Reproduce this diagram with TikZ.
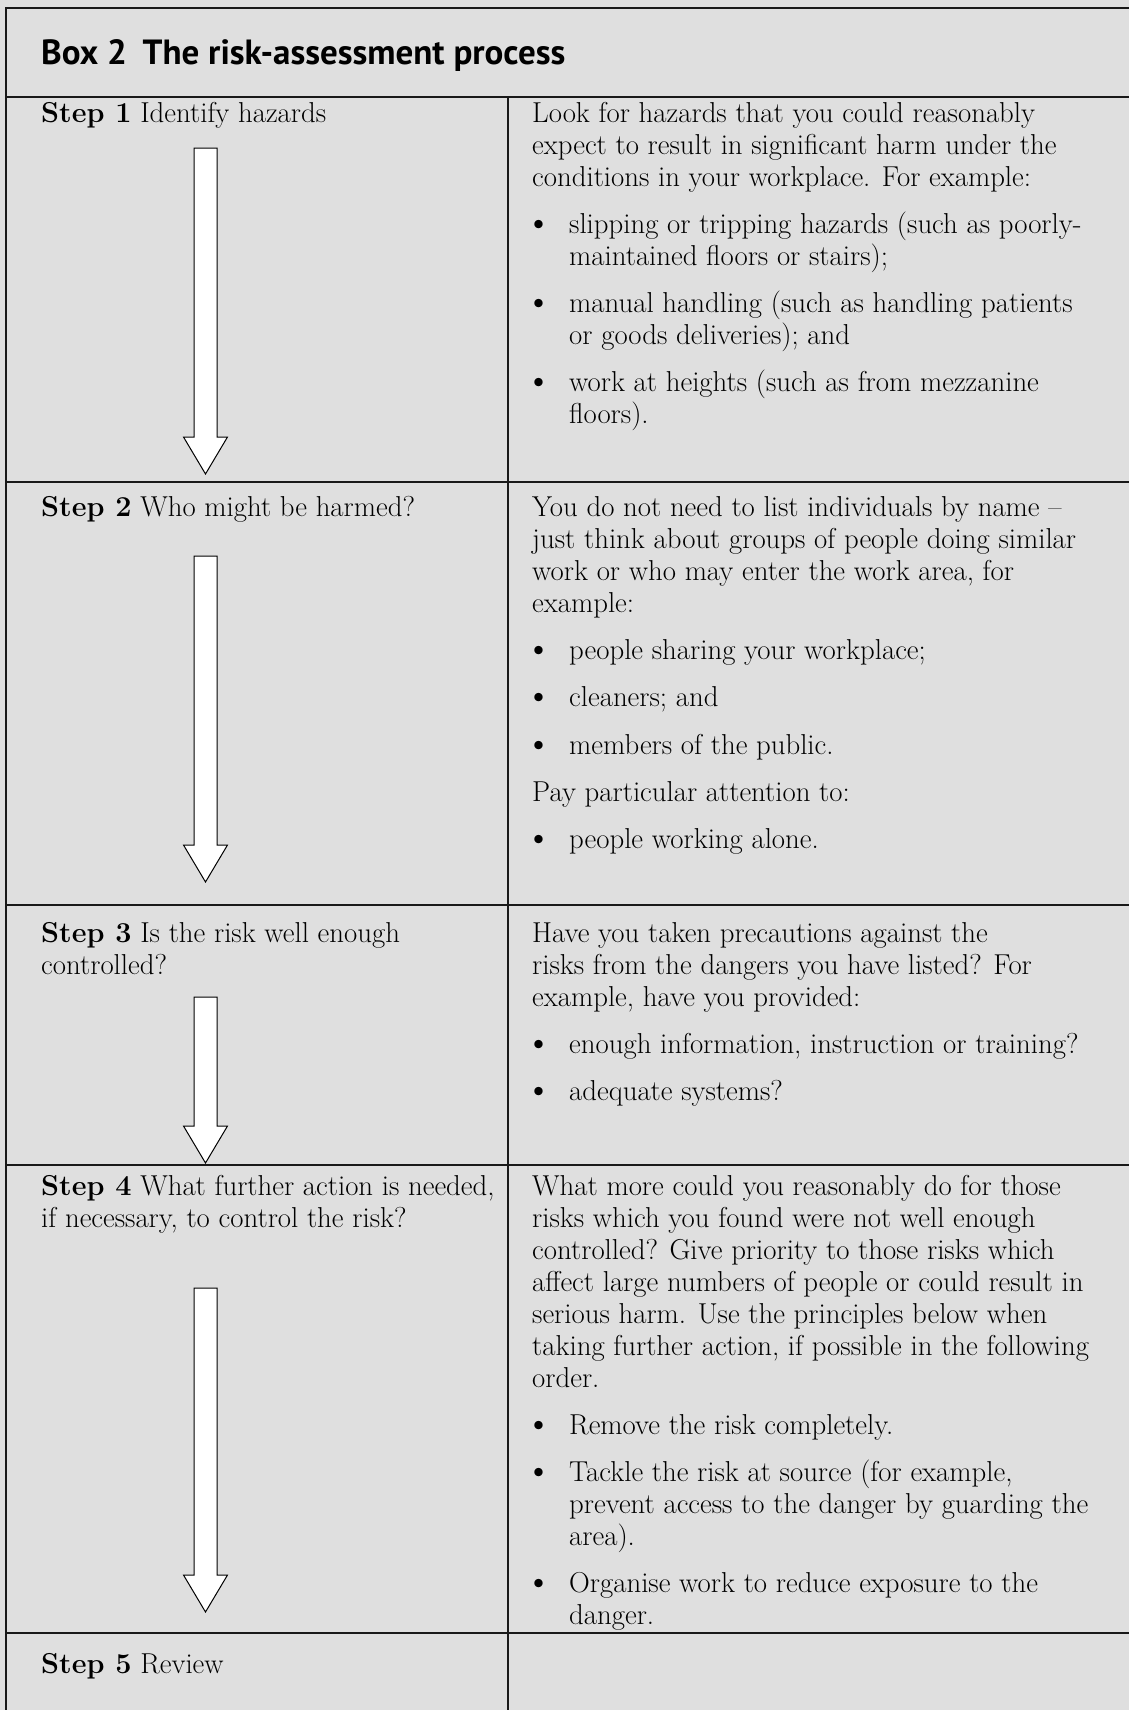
\documentclass[tikz,border=0pt]{standalone}
\usepackage{fontspec}
\newfontfamily\headfont{PT Sans}
\definecolor{boxgray}{RGB}{223,223,223}
\definecolor{rulegray}{RGB}{25,25,25}
\newcommand{\bodyfont}{\fontsize{28.8}{31.9}\selectfont}
\newcommand{\topstrut}{\rule{0pt}{22pt}}
\newcommand{\bl}{\makebox[37pt][l]{\hspace{-6.5pt}\raisebox{-1pt}{\scalebox{1.3}{\textbullet}}}}
\newcommand{\ind}{\hspace*{37pt}}

\begin{document}
\begin{tikzpicture}[x=1pt,y=-1pt,
    rule/.style={draw=rulegray, line width=2.3pt},
    celltext/.style={anchor=north west, inner sep=0pt, yshift=22pt, align=left, font=\bodyfont},
    blockarrow/.style={draw=black, fill=white, line width=1pt, line join=miter}]
  % page and frame
  \fill[boxgray] (0,0) rectangle (1129,1710);
  \useasboundingbox (0,0) rectangle (1129,1710);
  \draw[rule] (1129,8) -- (6,8) -- (6,1710);
  \draw[rule] (6,97) -- (1129,97);
  \draw[rule] (508,97) -- (508,1710);
  \foreach \y in {482,905,1165,1633}
    \draw[rule] (6,\y) -- (1129,\y);

  % heading
  \node[anchor=base west, inner sep=0pt, font=\headfont\bfseries\fontsize{35}{40}\selectfont] (title) at (41,64.5)
    {Box 2\hspace{0.45em}The risk-assessment process};

  % left column
  \node[celltext] (step1) at (41,122) {\topstrut\textbf{Step 1} Identify hazards};
  \node[celltext] (step2) at (41,516.5) {\topstrut\textbf{Step 2} Who might be harmed?};
  \node[celltext] (step3) at (41,942.5) {\topstrut\textbf{Step 3} Is the risk well enough\\controlled?};
  \node[celltext] (step4) at (41,1195.5) {\topstrut\textbf{Step 4} What further action is needed,\\if necessary, to control the risk?};
  \node[celltext] (step5) at (41,1673) {\topstrut\textbf{Step 5} Review};

  % arrows
  \foreach \top/\tip in {148/474, 556/882, 997/1163, 1288/1612}
    \draw[blockarrow] (194,\top) -- (217,\top) -- (217,\tip-37) -- (227.5,\tip-37)
      -- (205.5,\tip) -- (183.5,\tip-37) -- (194,\tip-37) -- cycle;

  % right column
  \node[celltext] (desc1) at (532,122) {\topstrut Look for hazards that you could reasonably\\
    expect to result in significant harm under the\\
    conditions in your workplace. For example:\\[15.3pt]
    \bl slipping or tripping hazards (such as poorly-\\
    \ind maintained floors or stairs);\\[15.3pt]
    \bl manual handling (such as handling patients\\
    \ind or goods deliveries); and\\[15.3pt]
    \bl work at heights (such as from mezzanine\\
    \ind floors).};
  \node[celltext] (desc2) at (532,516.5) {\topstrut You do not need to list individuals by name --\\
    just think about groups of people doing similar\\
    work or who may enter the work area, for\\
    example:\\[15.3pt]
    \bl people sharing your workplace;\\[15.3pt]
    \bl cleaners; and\\[15.3pt]
    \bl members of the public.\\[15.3pt]
    Pay particular attention to:\\[15.3pt]
    \bl people working alone.};
  \node[celltext] (desc3) at (532,942.5) {\topstrut Have you taken precautions against the\\
    risks from the dangers you have listed? For\\
    example, have you provided:\\[15.3pt]
    \bl enough information, instruction or training?\\[15.3pt]
    \bl adequate systems?};
  \node[celltext] (desc4) at (532,1195.5) {\topstrut What more could you reasonably do for those\\
    risks which you found were not well enough\\
    controlled? Give priority to those risks which\\
    affect large numbers of people or could result in\\
    serious harm. Use the principles below when\\
    taking further action, if possible in the following\\
    order.\\[15.3pt]
    \bl Remove the risk completely.\\[15.3pt]
    \bl Tackle the risk at source (for example,\\
    \ind prevent access to the danger by guarding the\\
    \ind area).\\[15.3pt]
    \bl Organise work to reduce exposure to the\\
    \ind danger.};
\end{tikzpicture}
\end{document}
